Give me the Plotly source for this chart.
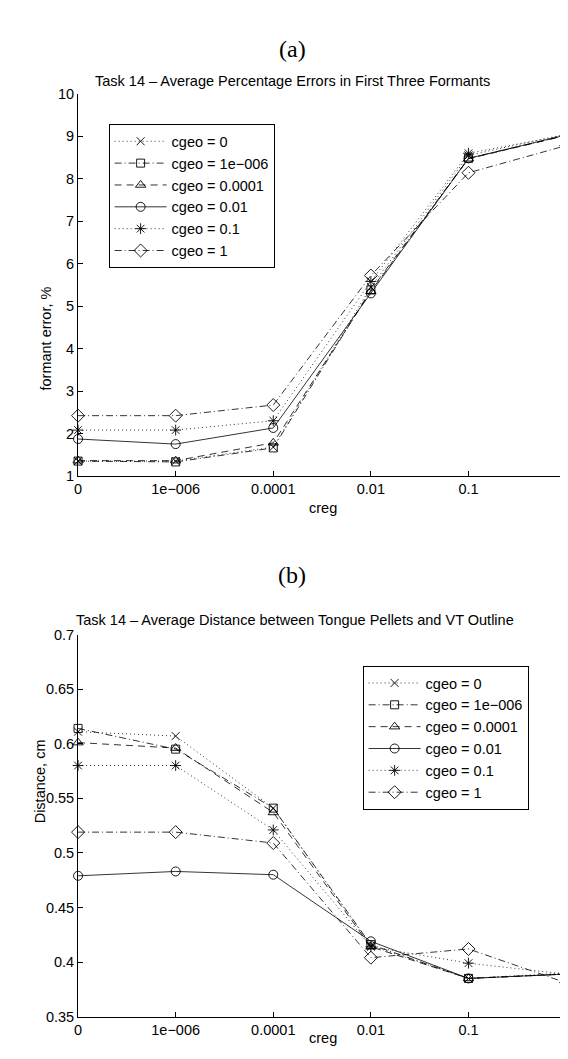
import plotly.graph_objects as go

# ---- data ----
creg_labels = ["0", "1e\u2212006", "0.0001", "0.01", "0.1", "1"]
cgeo_labels = ["cgeo = 0", "cgeo = 1e\u2212006", "cgeo = 0.0001",
               "cgeo = 0.01", "cgeo = 0.1", "cgeo = 1"]

formant_cgeo_0 = [1.35, 1.35, 1.68, 5.45, 8.55, 9.05]
formant_cgeo_1e6 = [1.35, 1.33, 1.66, 5.38, 8.48, 9.02]
formant_cgeo_1e4 = [1.36, 1.36, 1.78, 5.35, 8.47, 9.02]
formant_cgeo_001 = [1.87, 1.75, 2.13, 5.30, 8.48, 9.03]
formant_cgeo_01 = [2.08, 2.08, 2.30, 5.58, 8.60, 9.03]
formant_cgeo_1 = [2.42, 2.42, 2.67, 5.72, 8.14, 8.78]

dist_cgeo_0 = [0.611, 0.607, 0.541, 0.415, 0.385, 0.390]
dist_cgeo_1e6 = [0.614, 0.595, 0.541, 0.416, 0.385, 0.389]
dist_cgeo_1e4 = [0.601, 0.596, 0.537, 0.414, 0.385, 0.389]
dist_cgeo_001 = [0.479, 0.483, 0.480, 0.419, 0.385, 0.389]
dist_cgeo_01 = [0.580, 0.580, 0.521, 0.414, 0.399, 0.389]
dist_cgeo_1 = [0.519, 0.519, 0.509, 0.404, 0.412, 0.381]

formant_series = [formant_cgeo_0, formant_cgeo_1e6, formant_cgeo_1e4,
                  formant_cgeo_001, formant_cgeo_01, formant_cgeo_1]
dist_series = [dist_cgeo_0, dist_cgeo_1e6, dist_cgeo_1e4,
               dist_cgeo_001, dist_cgeo_01, dist_cgeo_1]

# ---- styles ----
dashes = ["1px,3px", "7px,3px,1px,3px", "7px,5px", "solid", "1px,3px", "7px,3px,1px,3px"]
symbols = ["x-thin-open", "square-open", "triangle-up-open", "circle-open",
           "asterisk-open", "diamond-open"]
msizes = [8, 8, 9, 9, 9, 10]

W, H = 568, 1059
FONT = "Liberation Sans, Arial, sans-serif"


def px(x):
    return x / W


def py(y):
    return 1 - y / H


xs = list(range(len(creg_labels)))
fig = go.Figure()

for i, (lab, ys) in enumerate(zip(cgeo_labels, formant_series)):
    fig.add_trace(go.Scatter(
        x=xs, y=ys, name=lab, mode="lines+markers", xaxis="x", yaxis="y",
        legend="legend", legendgroup="a%d" % i, cliponaxis=False,
        line=dict(color="black", width=0.8, dash=dashes[i]),
        marker=dict(symbol=symbols[i], size=msizes[i], color="black",
                    line=dict(color="black", width=0.9))))

for i, (lab, ys) in enumerate(zip(cgeo_labels, dist_series)):
    fig.add_trace(go.Scatter(
        x=xs, y=ys, name=lab, mode="lines+markers", xaxis="x2", yaxis="y2",
        legend="legend2", legendgroup="b%d" % i, cliponaxis=False,
        line=dict(color="black", width=0.8, dash=dashes[i]),
        marker=dict(symbol=symbols[i], size=msizes[i], color="black",
                    line=dict(color="black", width=0.9))))

x_dom = [px(67), px(562)]
axis_common = dict(showline=True, linecolor="black", linewidth=1, mirror=False,
                   ticks="inside", ticklen=5, tickcolor="black", showgrid=False,
                   zeroline=False, ticklabeloverflow="allow",
                   tickfont=dict(family=FONT, size=14.5, color="black"))

legend_common = dict(bordercolor="black", borderwidth=1, bgcolor="white",
                     traceorder="grouped", tracegroupgap=0, itemwidth=52,
                     font=dict(family=FONT, size=14.5, color="black"))

fig.update_layout(
    width=W, height=H,
    margin=dict(l=0, r=0, t=0, b=0),
    paper_bgcolor="white", plot_bgcolor="white",
    font=dict(family=FONT, color="black"),
    xaxis=dict(domain=x_dom, range=[0, 5], tickvals=xs, ticktext=creg_labels,
               anchor="y", **axis_common),
    yaxis=dict(domain=[py(467), py(79)], range=[1, 10], dtick=1, tick0=1,
               anchor="x", **axis_common),
    xaxis2=dict(domain=x_dom, range=[0, 5], tickvals=xs, ticktext=creg_labels,
                anchor="y2", **axis_common),
    yaxis2=dict(domain=[py(1016), py(628)], range=[0.35, 0.7], dtick=0.05, tick0=0.35,
                anchor="x2", **axis_common),
    legend=dict(x=px(98), y=py(110), xanchor="left", yanchor="top", **legend_common),
    legend2=dict(x=px(524), y=py(660), xanchor="right", yanchor="top", **legend_common),
    showlegend=True,
)

ann = []
ann.append(dict(text="(a)", x=px(284), y=py(18), xref="paper", yref="paper",
                showarrow=False, font=dict(family="Liberation Serif, serif", size=24)))
ann.append(dict(text="(b)", x=px(284), y=py(568), xref="paper", yref="paper",
                showarrow=False, font=dict(family="Liberation Serif, serif", size=24)))
ann.append(dict(text="Task 14 \u2013 Average Percentage Errors in First Three Formants",
                x=px(285), y=py(56), xref="paper", yref="paper", showarrow=False,
                font=dict(family=FONT, size=14.5)))
ann.append(dict(text="Task 14 \u2013 Average Distance between Tongue Pellets and VT Outline",
                x=px(287), y=py(613), xref="paper", yref="paper", showarrow=False,
                font=dict(family=FONT, size=14.5)))
ann.append(dict(text="formant error, %", x=px(24), y=py(273), xref="paper", yref="paper",
                showarrow=False, textangle=-90, font=dict(family=FONT, size=14.5)))
ann.append(dict(text="Distance, cm", x=px(18), y=py(822), xref="paper", yref="paper",
                showarrow=False, textangle=-90, font=dict(family=FONT, size=14.5)))
ann.append(dict(text="creg", x=px(315), y=py(500), xref="paper", yref="paper",
                showarrow=False, font=dict(family=FONT, size=14.5)))
ann.append(dict(text="creg", x=px(315), y=py(1048), xref="paper", yref="paper",
                showarrow=False, font=dict(family=FONT, size=14.5)))
fig.update_layout(annotations=ann)

fig.write_html("out.html")
